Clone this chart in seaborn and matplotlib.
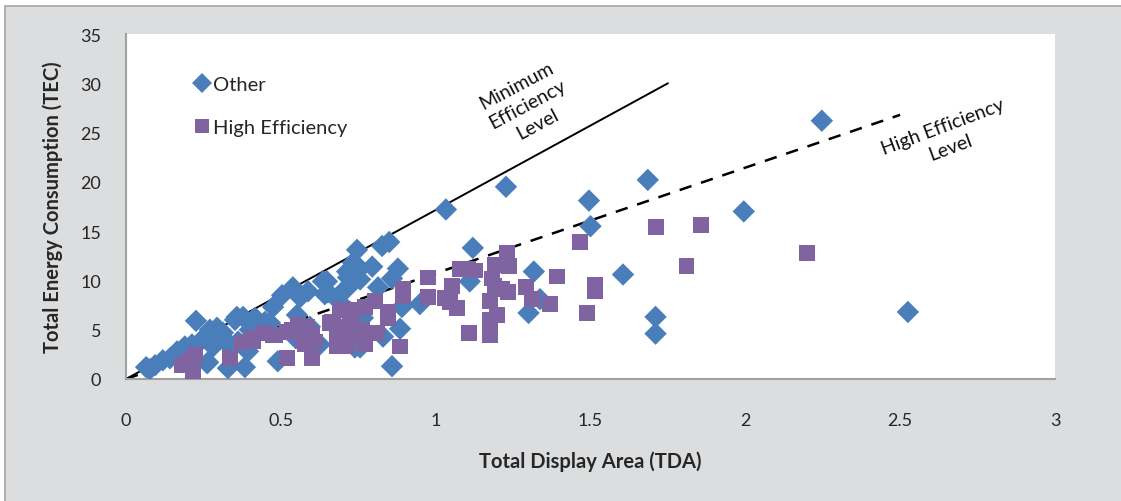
import pandas as pd
import seaborn as sns
import matplotlib.pyplot as plt
from matplotlib.patches import Rectangle

# Data
other_tda = [0.065, 0.077, 0.094, 0.119, 0.142, 0.165, 0.19, 0.213, 0.239, 0.26,
             0.271, 0.294, 0.313, 0.326, 0.265, 0.329, 0.358, 0.281, 0.226, 0.30,
             0.329, 0.394, 0.384, 0.262, 0.352, 0.378, 0.417, 0.449, 0.465, 0.40,
             0.475, 0.504, 0.539, 0.562, 0.588, 0.636, 0.642, 0.546, 0.604, 0.62,
             0.49, 0.41, 0.442, 0.362, 0.394, 0.552, 0.594, 0.739, 0.707, 0.717,
             0.85, 0.827, 0.746, 0.733, 0.756, 0.714, 0.795, 0.878, 0.859, 0.649,
             0.756, 0.714, 0.814, 0.652, 0.949, 0.891, 0.885, 0.83, 0.756, 0.859,
             0.626, 0.69, 0.765, 1.033, 1.227, 1.495, 1.685, 1.995, 1.50, 1.605,
             1.317, 1.12, 1.11, 1.30, 1.71, 1.71, 2.525, 2.247, 1.337]
other_tec = [1.2, 1.0, 1.4, 1.9, 2.1, 2.8, 3.3, 3.5, 3.8, 4.3,
             5.0, 5.2, 4.7, 3.8, 1.7, 1.1, 6.3, 3.3, 5.9, 4.3,
             3.5, 4.0, 1.2, 1.6, 6.0, 6.3, 6.2, 5.8, 5.7, 5.0,
             7.3, 8.5, 9.3, 8.3, 8.9, 9.9, 8.6, 4.2, 3.7, 3.5,
             1.8, 6.0, 5.5, 3.8, 2.8, 6.5, 5.3, 3.2, 9.1, 10.3,
             13.9, 13.5, 13.1, 11.8, 11.2, 10.9, 11.4, 11.2, 10.2, 9.9,
             10.1, 9.2, 9.3, 8.8, 7.6, 7.3, 5.1, 4.3, 3.2, 1.3,
             3.5, 7.8, 6.2, 17.2, 19.5, 18.1, 20.2, 17.0, 15.5, 10.6,
             10.9, 13.3, 9.9, 6.7, 6.3, 4.6, 6.8, 26.2, 8.1]

high_tda = [0.18, 0.216, 0.216, 0.20, 0.223, 0.336, 0.374, 0.407, 0.442, 0.481,
            0.52, 0.555, 0.584, 0.60, 0.578, 0.52, 0.60, 0.659, 0.41, 0.475,
            0.536, 0.571, 0.61, 0.571, 0.668, 0.691, 0.723, 0.733, 0.691, 0.681,
            0.714, 0.975, 0.975, 0.894, 0.894, 0.846, 0.846, 0.804, 0.772, 0.733,
            0.665, 0.697, 0.733, 0.762, 0.681, 0.730, 0.684, 0.772, 0.81, 0.885,
            1.053, 1.03, 1.046, 1.069, 1.078, 1.104, 1.127, 1.19, 1.23, 1.237,
            1.182, 1.19, 1.214, 1.233, 1.175, 1.198, 1.175, 1.175, 1.108, 1.292,
            1.31, 1.369, 1.392, 1.466, 1.49, 1.514, 1.514, 1.711, 1.857, 1.81,
            2.199]
high_tec = [1.4, 1.9, 0.7, 1.7, 2.4, 2.1, 3.7, 4.2, 4.7, 4.5,
            4.8, 5.5, 5.3, 4.5, 3.5, 2.1, 2.1, 5.7, 3.8, 4.5,
            5.0, 5.2, 3.8, 3.8, 5.8, 7.0, 6.3, 5.2, 4.3, 3.3,
            3.3, 10.3, 8.3, 9.1, 8.4, 6.8, 6.2, 7.9, 7.3, 7.0,
            5.8, 5.3, 5.5, 5.0, 4.3, 4.3, 3.3, 3.5, 4.7, 3.3,
            9.4, 8.2, 7.8, 7.2, 11.2, 11.2, 11.0, 11.6, 12.8, 11.5,
            10.2, 9.4, 9.1, 8.8, 7.9, 6.5, 6.0, 4.5, 4.7, 9.3,
            8.1, 7.6, 10.4, 13.9, 6.7, 9.5, 8.9, 15.4, 15.6, 11.5,
            12.8]

# reference lines
min_line_x = [0, 1.75]
min_line_y = [0, 30]
high_line_x = [0, 2.5]
high_line_y = [0, 26.8]

x_ticks = [0, 0.5, 1, 1.5, 2, 2.5, 3]
y_ticks = [0, 5, 10, 15, 20, 25, 30, 35]

df = pd.DataFrame({
    'TDA': other_tda + high_tda,
    'TEC': other_tec + high_tec,
    'group': ['Other'] * len(other_tda) + ['High Efficiency'] * len(high_tda),
})

sns.set_style('white')
plt.rcParams['font.family'] = ['Lato', 'DejaVu Sans']

fig = plt.figure(figsize=(11.21, 5.02), dpi=100)
fig.patch.set_facecolor('white')
# gray chart panel with border on top/left
fig.patches.append(Rectangle((5 / 1121, -0.01), 1.0, 1.01 - 7 / 502, transform=fig.transFigure,
                             facecolor='#DCDDDF', edgecolor='#A5A5A5', linewidth=1.2,
                             zorder=-10))
ax = fig.add_axes([126 / 1121, 1 - 380 / 502, (1055 - 126) / 1121, (380 - 35) / 502])
ax.set_zorder(5)

sns.scatterplot(data=df, x='TDA', y='TEC', hue='group', style='group',
                palette={'Other': '#4A7EBB', 'High Efficiency': '#8064A2'},
                markers={'Other': 'D', 'High Efficiency': 's'},
                s=130, linewidth=0, alpha=1, ax=ax, zorder=3)

ax.plot(min_line_x, min_line_y, color='black', linewidth=1.4, zorder=2)
ax.plot(high_line_x, high_line_y, color='black', linewidth=1.8,
        dashes=(5, 4), zorder=2)

ax.text(1.295, 27.9, 'Minimum\nEfficiency\nLevel', rotation=28, ha='center', va='center',
        fontsize=14, linespacing=1.35, color='#111111')
ax.text(2.65, 24.6, 'High Efficiency\nLevel', rotation=20.5, ha='center', va='center',
        fontsize=14, linespacing=1.35, color='#111111')

ax.set_xlim(0, 3)
ax.set_ylim(0, 35)
ax.set_xticks(x_ticks)
ax.set_xticklabels(['0', '0.5', '1', '1.5', '2', '2.5', '3'])
ax.set_yticks(y_ticks)
ax.tick_params(axis='x', length=0, pad=24, labelsize=13)
ax.tick_params(axis='y', length=0, pad=18, labelsize=13)
for side in ['top', 'right']:
    ax.spines[side].set_visible(False)
for side in ['left', 'bottom']:
    ax.spines[side].set_color('#A0A0A0')
    ax.spines[side].set_linewidth(1.5)

ax.set_xlabel('Total Display Area (TDA)', fontsize=14.5, fontweight='bold', labelpad=16)
ax.set_ylabel('Total Energy Consumption (TEC)', fontsize=14.5, fontweight='bold', labelpad=12)

handles, labels = ax.get_legend_handles_labels()
ax.legend(handles, labels, loc='upper left', bbox_to_anchor=(0.05, 0.93), frameon=False,
          fontsize=14.5, labelspacing=1.25, handletextpad=0.0, handlelength=1.1,
          markerscale=0.9)

fig.savefig('out.png', dpi=100)
